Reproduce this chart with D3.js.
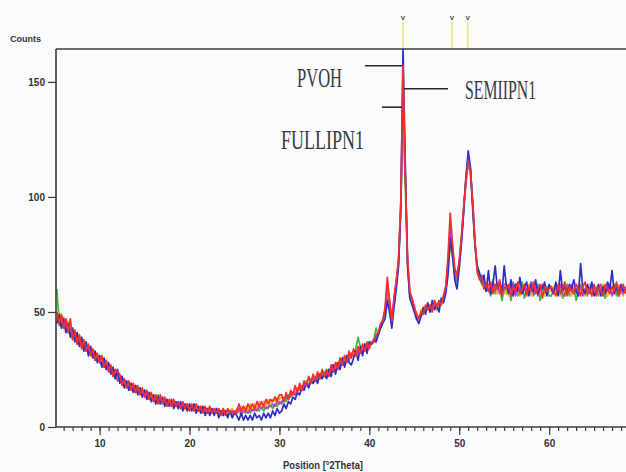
<!DOCTYPE html>
<html><head><meta charset="utf-8">
<script src="https://cdn.jsdelivr.net/npm/d3@7"></script>
<style>html,body{margin:0;padding:0;background:#fafbfd;}svg{display:block}</style>
</head><body><svg id="chart" width="626" height="472"></svg>
<script>
// ---- DATA ----
const angles = [
 5.25,5.5,5.75,6,6.25,6.5,6.75,7,7.25,7.5,7.75,8,8.25,8.5,8.75,9,9.25,9.5,9.75,10,
 10.25,10.5,10.75,11,11.25,11.5,11.75,12,12.25,12.5,12.75,13,13.25,13.5,13.75,14,14.25,14.5,14.75,15,
 15.25,15.5,15.75,16,16.25,16.5,16.75,17,17.25,17.5,17.75,18,18.25,18.5,18.75,19,19.25,19.5,19.75,20,
 20.25,20.5,20.75,21,21.25,21.5,21.75,22,22.25,22.5,22.75,23,23.25,23.5,23.75,24,24.25,24.5,24.75,25,
 25.25,25.5,25.75,26,26.25,26.5,26.75,27,27.25,27.5,27.75,28,28.25,28.5,28.75,29,29.25,29.5,29.75,30,
 30.25,30.5,30.75,31,31.25,31.5,31.75,32,32.25,32.5,32.75,33,33.25,33.5,33.75,34,34.25,34.5,34.75,35,
 35.25,35.5,35.75,36,36.25,36.5,36.75,37,37.25,37.5,37.75,38,38.25,38.5,38.75,39,39.25,39.5,39.75,40,
 40.25,40.5,40.75,41,41.25,41.5,41.75,42,42.25,42.5,42.75,43,43.25,43.5,43.75,44,44.25,44.5,44.75,45,
 45.25,45.5,45.75,46,46.25,46.5,46.75,47,47.25,47.5,47.75,48,48.25,48.5,48.75,49,49.25,49.5,49.75,50,
 50.25,50.5,50.75,51,51.25,51.5,51.75,52,52.25,52.5,52.75,53,53.25,53.5,53.75,54,54.25,54.5,54.75,55,
 55.25,55.5,55.75,56,56.25,56.5,56.75,57,57.25,57.5,57.75,58,58.25,58.5,58.75,59,59.25,59.5,59.75,60,
 60.25,60.5,60.75,61,61.25,61.5,61.75,62,62.25,62.5,62.75,63,63.25,63.5,63.75,64,64.25,64.5,64.75,65,
 65.25,65.5,65.75,66,66.25,66.5,66.75,67,67.25,67.5,67.75,68,68.25,68.5
];
const countsGreen = [
 60,44,48,43,46,41,44,38,42,36,40,35,37,33,35,31,33,29,31,28,
 27,29,25,27,23,25,21,23,20,22,18,20,17,19,16,18,15,17,14,16,
 13,15,12,13,11,14,11,12,10,12,10,11,9,11,9,10,8,10,8,9,
 8,9,7,9,7,8,6,8,6,8,6,8,6,7,6,7,5,7,5,7,
 6,7,5,7,6,8,6,8,7,8,7,9,7,9,8,10,8,10,9,11,
 10,13,11,14,13,15,14,17,16,18,17,20,18,21,19,22,20,23,21,24,
 22,25,24,27,25,28,27,30,28,31,30,32,31,34,39,35,33,36,34,37,
 36,38,43,40,44,47,50,58,53,47,54,62,71,95,134,106,71,57,54,53,
 48,48,49,50,51,53,50,52,54,51,54,55,56,59,68,80,74,67,63,70,
 81,94,106,115,110,96,80,67,65,62,61,59,60,57,64,58,59,61,55,60,
 58,61,55,60,62,57,59,63,56,60,58,61,57,59,62,55,60,58,61,57,
 57,60,62,58,61,56,59,62,57,60,61,55,59,62,58,60,57,61,59,58,
 60,57,61,59,56,61,58,60,62,57,60,58,61,59
];
const countsOrange = [
 47,50,44,48,42,46,40,43,38,41,36,39,34,37,32,35,31,33,29,31,
 30,27,28,24,26,22,24,20,22,19,20,17,19,16,18,15,17,14,16,13,
 15,12,14,12,13,11,13,10,12,10,12,9,11,9,11,8,10,8,10,8,
 9,8,10,7,9,7,8,7,9,6,8,7,8,6,8,6,7,7,8,6,
 8,6,9,7,9,7,10,8,10,8,11,9,11,9,12,10,12,11,13,12,
 13,11,14,12,15,14,17,15,18,16,20,18,21,19,22,20,23,21,24,22,
 25,23,26,24,28,26,29,27,31,29,32,30,33,31,34,32,35,33,36,35,
 37,37,39,42,43,47,50,60,54,47,55,63,72,97,139,108,73,58,55,51,
 50,46,51,50,52,52,51,53,52,54,52,54,57,60,71,88,79,68,65,71,
 82,95,108,116,112,97,81,69,66,64,62,61,62,59,61,60,58,62,60,58,
 59,57,61,58,60,62,57,59,61,58,62,57,60,59,58,61,59,57,60,59,
 59,61,58,60,57,62,59,58,60,57,61,59,62,58,59,57,60,62,58,60,
 61,58,60,62,59,57,61,59,58,60,62,59,57,60
];
const countsMagenta = [
 49,46,48,43,46,42,43,39,41,37,39,35,36,34,34,32,33,30,31,29,
 28,26,27,25,24,24,25,20,21,21,18,19,17,18,18,15,16,16,14,15,
 14,14,12,13,12,11,12,11,11,10,11,10,10,9,10,9,9,8,9,8,
 8,9,7,8,8,7,8,6,8,7,7,6,7,7,6,7,7,6,6,7,
 6,8,6,7,7,6,8,7,8,7,9,8,9,8,9,9,10,9,11,10,
 11,12,13,12,14,15,14,16,17,16,18,19,18,20,21,20,22,21,23,22,
 24,23,25,27,25,26,29,27,28,31,29,32,31,33,32,34,33,35,34,36,
 36,37,38,41,44,46,51,61,55,46,56,63,72,96,147,112,72,58,56,52,
 47,48,48,51,50,52,52,51,54,53,53,54,55,61,70,86,77,66,64,72,
 82,95,108,117,112,97,80,70,65,66,63,60,62,61,63,59,62,58,61,62,
 62,59,60,63,57,61,60,58,62,59,60,63,58,61,57,60,62,59,58,61,
 60,58,61,59,62,58,57,61,59,62,58,60,59,61,57,60,59,58,61,59,
 57,60,62,58,60,59,62,57,60,59,61,60,58,61
];
const countsBlue = [
 45,49,43,47,41,45,39,43,37,41,35,39,33,37,31,35,30,33,28,31,
 26,30,25,28,23,26,21,25,19,22,17,20,16,19,15,18,14,17,13,16,
 12,15,11,14,10,13,10,13,9,12,9,12,8,11,8,11,7,10,7,10,
 7,10,6,9,6,9,5,8,5,8,5,8,4,7,5,7,4,7,4,6,
 5,3,6,3,5,3,5,3,6,4,5,3,6,4,6,4,7,5,8,6,
 7,10,8,11,10,13,12,15,14,17,16,19,17,20,19,21,19,23,21,23,
 21,25,22,27,23,28,25,30,26,31,28,27,30,33,29,35,31,36,32,37,
 36,38,37,40,43,45,47,55,50,43,52,60,70,94,164,114,70,56,53,50,
 47,45,48,52,49,54,50,55,51,53,50,56,54,58,66,82,75,64,60,69,
 80,94,109,120,113,95,79,70,67,63,66,59,68,58,62,70,60,63,58,70,
 61,58,64,57,62,59,65,58,60,63,57,62,59,64,58,61,60,63,57,62,
 60,58,63,57,68,59,61,58,62,60,64,59,57,71,60,58,62,59,63,57,
 59,62,57,61,58,63,60,68,58,61,57,62,59,60
];
const countsRed = [
 50,45,49,43,47,41,47,38,42,36,40,34,38,33,36,31,34,29,32,28,
 31,26,29,24,27,22,25,24,23,18,21,17,20,16,19,15,18,14,17,13,
 16,12,15,11,14,10,14,10,13,9,12,9,12,9,11,8,11,8,10,7,
 10,7,10,7,9,6,9,6,9,6,8,6,8,5,8,5,8,6,7,6,
 7,10,7,9,7,10,8,10,8,11,9,11,9,12,10,12,11,13,11,14,
 14,11,15,12,16,14,18,15,19,16,20,18,22,19,23,20,24,21,25,22,
 25,22,27,24,28,25,30,27,31,28,33,30,34,31,35,32,36,33,37,34,
 37,37,40,41,45,46,52,65,55,46,56,64,73,98,157,110,74,59,56,52,
 49,47,50,49,53,51,53,50,55,52,55,53,57,61,74,93,80,69,66,72,
 83,96,107,116,111,98,81,68,64,65,60,62,59,63,58,62,60,64,57,61,
 60,62,57,61,59,63,58,60,62,57,61,59,63,58,60,62,56,61,59,60,
 61,59,57,62,58,60,63,57,61,59,58,62,60,57,61,63,58,60,57,62,
 58,61,59,57,62,60,58,61,59,63,57,60,62,58
];
const seriesNames = ["green","orange","magenta","blue","red"];
const seriesColors = ["#3cb83c","#f5b21a","#c83cc8","#2f2fc8","#f22f2f"];
const xTickValues = [10,20,30,40,50,60];
const xTickLabels = ["10","20","30","40","50","60"];
const yTickValues = [0,50,100,150];
const yTickLabels = ["0","50","100","150"];
const refPeakPositions = [43.75,49.2,50.95];
const annotationLabels = ["PVOH","SEMIIPN1","FULLIPN1"];
const annotationSeries = ["red","magenta","orange"];
const yAxisTitle = "Counts";
const xAxisTitle = "Position [°2Theta]";

// ---- CHART ----
(function(){
const seriesValues = [countsGreen,countsOrange,countsMagenta,countsBlue,countsRed];
const svg = d3.select("#chart");
const pL = 56, pT = 49, pR = 626, pB = 427;
const x = d3.scaleLinear().domain([5.15,68.55]).range([pL,pR]);
const y = d3.scaleLinear().domain([0,164.3]).range([pB,pT]);
const axisColor = "#3c3c3c";
const labelFont = "'Liberation Sans', Arial, sans-serif";

svg.append("rect").attr("width",626).attr("height",472).attr("fill","#fafbfd");

svg.append("clipPath").attr("id","clip").append("rect")
  .attr("x",pL).attr("y",pT-1).attr("width",pR-pL).attr("height",pB-pT+1);

// reference peak markers above the frame
const mk = svg.append("g");
refPeakPositions.forEach(p => {
  mk.append("line").attr("x1",x(p)).attr("x2",x(p)).attr("y1",22).attr("y2",pT)
    .attr("stroke","#f2e47c").attr("stroke-width",1.6);
  mk.append("text").attr("x",x(p)).attr("y",20).attr("text-anchor","middle")
    .attr("font-family",labelFont).attr("font-size",8).attr("font-weight","bold")
    .attr("fill","#555").text("v");
});

// series
const line = d3.line().x((d,i)=>x(angles[i])).y(d=>y(d));
const gLines = svg.append("g").attr("clip-path","url(#clip)");
seriesValues.forEach((vals,k) => {
  gLines.append("path").datum(vals).attr("d",line).attr("fill","none")
    .attr("stroke",seriesColors[k]).attr("stroke-width",1.7).attr("stroke-linejoin","round");
});

// frame
svg.append("line").attr("x1",pL).attr("x2",pR).attr("y1",pT).attr("y2",pT)
  .attr("stroke",axisColor).attr("stroke-width",1.6);
svg.append("line").attr("x1",pL).attr("x2",pL).attr("y1",pT).attr("y2",pB)
  .attr("stroke",axisColor).attr("stroke-width",1.6);
svg.append("line").attr("x1",pL).attr("x2",pR).attr("y1",pB).attr("y2",pB)
  .attr("stroke",axisColor).attr("stroke-width",1.6);

// x axis minor + major
const gxMinor = svg.append("g").attr("transform",`translate(0,${pB})`)
  .call(d3.axisBottom(x).tickValues(d3.range(6,69)).tickSize(4).tickFormat(""));
const gx = svg.append("g").attr("transform",`translate(0,${pB})`)
  .call(d3.axisBottom(x).tickValues(xTickValues).tickSize(8).tickPadding(5)
    .tickFormat((d,i)=>xTickLabels[i]));
const gy = svg.append("g").attr("transform",`translate(${pL},0)`)
  .call(d3.axisLeft(y).tickValues(yTickValues).tickSize(8).tickPadding(3)
    .tickFormat((d,i)=>yTickLabels[i]));
[gxMinor,gx,gy].forEach(g => {
  g.select(".domain").remove();
  g.selectAll(".tick line").attr("stroke",axisColor).attr("stroke-width",1.2);
  g.selectAll(".tick text").attr("font-family",labelFont).attr("font-size",10)
    .attr("font-weight","bold").attr("fill","#333");
});

// axis titles
svg.append("text").attr("x",10).attr("y",42).attr("font-family",labelFont)
  .attr("font-size",9.5).attr("font-weight","bold").attr("fill","#333")
  .attr("textLength",31).attr("lengthAdjust","spacingAndGlyphs").text(yAxisTitle);
svg.append("text").attr("x",283).attr("y",469).attr("font-family",labelFont)
  .attr("font-size",10).attr("font-weight","bold").attr("fill","#333")
  .attr("textLength",80).attr("lengthAdjust","spacingAndGlyphs").text(xAxisTitle);

// annotations pointing at peak heights
const layout = [
  {side:"left", lineLen:37, gap:23, dy:21, width:45},
  {side:"right", lineLen:44, gap:17, dy:10, width:71},
  {side:"left", lineLen:20, gap:18, dy:42, width:83}
];
annotationLabels.forEach((lab,i) => {
  const vals = seriesValues[seriesNames.indexOf(annotationSeries[i])];
  const mx = d3.max(vals), idx = vals.indexOf(mx);
  const px = x(angles[idx]), py = y(mx);
  const L = layout[i];
  let x1, x2, tx;
  if (L.side === "left") { x2 = px - 1; x1 = x2 - L.lineLen; tx = x1 - L.gap - L.width; }
  else { x1 = px + 1; x2 = x1 + L.lineLen; tx = x2 + L.gap; }
  svg.append("line").attr("x1",x1).attr("x2",x2).attr("y1",py).attr("y2",py)
    .attr("stroke","#2a2a2a").attr("stroke-width",1.6);
  svg.append("text").attr("x",tx).attr("y",py+L.dy)
    .attr("font-family","'Liberation Serif','Times New Roman',serif").attr("font-size",27)
    .attr("fill","#3a3a3a").attr("textLength",L.width).attr("lengthAdjust","spacingAndGlyphs")
    .text(lab);
});
})();
</script>
</body></html>
